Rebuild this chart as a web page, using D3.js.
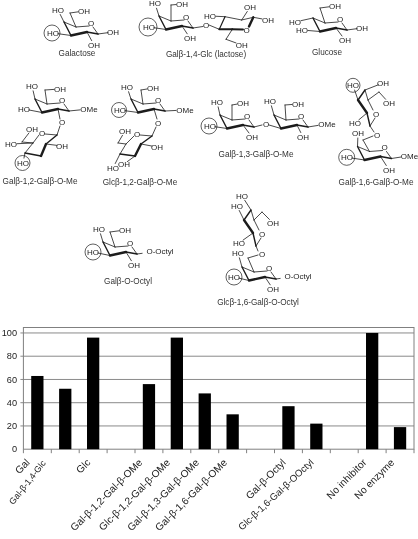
<!DOCTYPE html>
<html>
<head>
<meta charset="utf-8">
<script src="https://cdn.jsdelivr.net/npm/d3@7/dist/d3.min.js"></script>
<style>
html,body{margin:0;padding:0;background:#fff}
svg{display:block}
text{font-family:"Liberation Sans",Arial,sans-serif}
.soft{filter:blur(0.3px)}
</style>
</head>
<body>
<svg id="c" width="418" height="539"></svg>
<script>
// ---- chart data ----
const categories = ["Gal","Gal-\u03b2-1,4-Glc","Glc","","Gal-\u03b2-1,2-Gal-\u03b2-OMe","Glc-\u03b2-1,2-Gal-\u03b2-OMe","Gal-\u03b2-1,3-Gal-\u03b2-OMe","Gal-\u03b2-1,6-Gal-\u03b2-OMe","","Gal-\u03b2-Octyl","Glc-\u03b2-1,6-Gal-\u03b2-OOctyl","","No inhibitor","No enzyme"];
const activity = [63,52,96,null,56,96,48,30,null,37,22,null,100,19];
const yTicks = [0,20,40,60,80,100];
const labelNudge = [-7,-19,-2,0,-6,-6,-5,-5,0,-2,-2,0,-5,-5];
const labelSize = [10.2,8.9,10.2,0,10.2,10.2,10.2,10.2,0,10.2,9.6,0,10.2,10.2];
const labelAngle = [-45,-52,-45,0,-45,-45,-45,-45,0,-45,-43,0,-45,-45];

const svg = d3.select("#c");

// ---- bar chart ----
const x = d3.scaleBand().domain(d3.range(categories.length)).range([23.4,414]).paddingInner(0.56).paddingOuter(0.28);
const y = d3.scaleLinear().domain([0,104.7]).range([449.2,327.5]);
const step = x.step(), left = x.range()[0];
const chart = svg.append("g");

chart.selectAll("line.grid").data(yTicks.slice(1)).join("line").attr("class","grid")
  .attr("x1",left-3).attr("x2",x.range()[1]).attr("y1",d=>y(d)).attr("y2",d=>y(d))
  .attr("stroke","#8a8a8a").attr("stroke-width",1);
chart.append("rect").attr("x",left).attr("y",y.range()[1]).attr("width",x.range()[1]-left).attr("height",y.range()[0]-y.range()[1])
  .attr("fill","none").attr("stroke","#808080");

chart.selectAll("rect.bar").data(activity.map((v,i)=>({v,i})).filter(d=>d.v!==null)).join("rect").attr("class","bar")
  .attr("x",d=>x(d.i)).attr("width",x.bandwidth()).attr("y",d=>y(d.v)).attr("height",d=>y(0)-y(d.v)).attr("fill","#000");

chart.selectAll("line.tick").data(d3.range(categories.length+1)).join("line").attr("class","tick")
  .attr("x1",i=>left+i*step).attr("x2",i=>left+i*step).attr("y1",y(0)).attr("y2",y(0)+4)
  .attr("stroke","#808080");

const chartText = svg.append("g").attr("class","soft");
chartText.selectAll("text.ytick").data(yTicks).join("text").attr("class","ytick")
  .attr("x",17).attr("y",d=>y(d)+3.2).attr("text-anchor","end").attr("font-size",9.2).attr("fill","#222").text(d=>d);

chartText.selectAll("text.xlab").data(categories.map((c,i)=>({c,i})).filter(d=>d.c)).join("text").attr("class","xlab")
  .attr("text-anchor","end").attr("font-size",d=>labelSize[d.i]).attr("fill","#222")
  .attr("transform",d=>`translate(${x(d.i)+x.bandwidth()/2+labelNudge[d.i]},${y(0)+14}) rotate(${labelAngle[d.i]})`)
  .text(d=>d.c);

// ---- structure helpers ----
const mol = svg.append("g").attr("class","soft");
const INK = "#1c1c1c";
function bond(a,b,w=0.8){ mol.append("line").attr("x1",a[0]).attr("y1",a[1]).attr("x2",b[0]).attr("y2",b[1]).attr("stroke",INK).attr("stroke-width",w).attr("stroke-linecap","round"); }
function label(t,p){ mol.append("text").attr("x",p[0]).attr("y",p[1]+2.8).attr("text-anchor","middle").attr("font-size",8).attr("fill",INK).text(t); }
function caption(t,cx,cy){ mol.append("text").attr("x",cx).attr("y",cy+2.8).attr("text-anchor","middle").attr("font-size",8.2).attr("fill","#333").text(t); }
function circ(p,r=8){ mol.append("circle").attr("cx",p[0]).attr("cy",p[1]).attr("r",r).attr("fill","none").attr("stroke",INK).attr("stroke-width",0.7); }
// bond from atom to label, stopping short of the label
function sub(a,p,t,cut=5){
  const dx=p[0]-a[0],dy=p[1]-a[1],L=Math.hypot(dx,dy)||1;
  bond(a,[p[0]-dx/L*cut,p[1]-dy/L*cut]);
  label(t,p);
}
function chair(ox,oy){
  const A={O:[ox,oy],C1:[ox+7,oy+11],C2:[ox-4,oy+9],C3:[ox-20,oy+12.5],C4:[ox-27,oy-1],C5:[ox-15,oy+4]};
  bond([ox-2,oy+3],A.C5); bond(A.C5,A.C4); bond(A.C4,A.C3,1.4); bond(A.C3,A.C2,2.4); bond(A.C2,A.C1,1.4); bond([ox+2,oy+4],A.C1);
  label("O",A.O);
  return A;
}
function vring(ox,oy){
  const A={O:[ox,oy],c:[ox-6,oy+12],b:[ox-9,oy-1],a:[ox-18,oy-14],t:[ox-11,oy-24],d:[ox-8,oy-14]};
  bond([ox-1,oy+4],A.c); bond(A.c,A.b,1.4); bond(A.b,A.a,2.4); bond(A.a,A.t,1.4); bond(A.t,A.d); bond(A.d,[ox-3,oy-4]);
  label("O",A.O);
  return A;
}
function sixOH(A,vertex,p,t="OH"){ bond(A.C5||A.d,vertex); sub(vertex,p,t,6); }

// Galactose
{ const A=chair(91,23);
  sub(A.C4,[58,10],"HO"); sixOH(A,[70,13],[84,11]);
  sub(A.C3,[53,33],"HO"); circ([52,33],8);
  sub(A.C2,[94,45],"OH"); sub(A.C1,[113,32],"OH");
  caption("Galactose",77,53); }

// Lactose
{ const A=chair(186,17);
  sub(A.C4,[155,3.5],"HO"); sixOH(A,[171,5],[182,4]);
  sub(A.C3,[149,27],"HO"); circ([148,27],9);
  sub(A.C2,[190,38],"OH");
  bond(A.C1,[203,26.5]); label("O",[206,25]);
  const P=[225,16.7],Q=[219.3,29.3],R=[232.3,29.3],U=[241.7,20],T=[253.3,17.3];
  bond([209,25],Q); bond(Q,P,1.2); bond(P,U); bond(U,T); bond(T,[249,26.5],2.4); bond(Q,R,2); bond(R,[243,29.5],2);
  label("O",[246.7,30]);
  sub(P,[210,16],"HO",6); sub(U,[250,7.3],"OH"); sub(T,[268,20],"OH",6);
  bond(R,[226,39.3]); sub([226,39.3],[241.7,45],"OH",6);
  caption("Gal\u03b2-1,4-Glc (lactose)",206,54); }

// Glucose
{ const A=chair(340,19);
  sub(A.C4,[295,22],"HO",6); sixOH(A,[320,8],[335,6]);
  sub(A.C3,[302,30],"HO",6);
  sub(A.C2,[345,40],"OH"); sub(A.C1,[362,28],"OH");
  caption("Glucose",327,52); }

// Gal b-1,2-Gal b-O-Me
{ const A=chair(62,100);
  sub(A.C4,[32,86],"HO"); sixOH(A,[45,90],[60,89]);
  sub(A.C3,[24,109],"HO"); sub(A.C1,[89,109],"OMe",9);
  bond(A.C2,[60,119]); label("O",[62,122]);
  const B={O:[42,133],C1:[57,135],C2:[46,144],C3:[41,156],C4:[25,153],C5:[33,143]};
  bond([60,126],B.C1); bond([45,134],B.C1); bond([39,135],B.C5); bond(B.C5,B.C4); bond(B.C4,B.C3,1.4); bond(B.C3,B.C2,2.4); bond(B.C2,B.C1,1.4);
  label("O",B.O);
  bond(B.C5,[22,142]); sub([22,142],[32,129],"OH");
  sub(B.C5,[11,144],"HO",6); sub(B.C2,[62,146],"OH");
  sub(B.C4,[23,163],"HO"); circ([22.5,163],7.5);
  caption("Gal\u03b2-1,2-Gal\u03b2-O-Me",40,181); }

// Glc b-1,2-Gal b-O-Me
{ const A=chair(158,100);
  sub(A.C4,[127,87],"HO"); sixOH(A,[141,90],[153,88]);
  sub(A.C3,[120,110],"HO"); circ([119,110],7.5); sub(A.C1,[185,110],"OMe",9);
  bond(A.C2,[157,119]); label("O",[158,123]);
  const B={O:[137,134],C1:[152,136],C2:[141,144],C3:[135,156],C4:[120,154],C5:[126,144]};
  bond([156,127],B.C1); bond([140,135],B.C1); bond([134,136],B.C5); bond(B.C5,B.C4); bond(B.C4,B.C3,1.4); bond(B.C3,B.C2,2.4); bond(B.C2,B.C1,1.4);
  label("O",B.O);
  bond(B.C5,[118,143]); sub([118,143],[125,131],"OH");
  sub(B.C2,[157,147],"OH"); sub(B.C3,[124,164],"OH",4); sub(B.C4,[113,168],"HO");
  caption("Glc\u03b2-1,2-Gal\u03b2-O-Me",140,182); }

// Gal b-1,3-Gal b-O-Me
{ const A=chair(247,116);
  sub(A.C4,[217,102],"HO"); sixOH(A,[232,105],[243,103]);
  sub(A.C3,[210,126],"HO"); circ([209,126],8); sub(A.C2,[252,137],"OH");
  bond(A.C1,[262,125]); label("O",[266,124]);
  const B=chair(301,116);
  sub(B.C4,[270,101],"HO"); sixOH(B,[285,105],[298,104]);
  bond([269,125],B.C3); sub(B.C2,[303,137],"OH"); sub(B.C1,[327,124],"OMe",9);
  caption("Gal\u03b2-1,3-Gal\u03b2-O-Me",256,154); }

// Gal b-1,6-Gal b-O-Me
{ const A=vring(376,114);
  sub(A.a,[353,85.3],"HO"); circ([353,85.3],7); sub(A.t,[383,83],"OH");
  bond(A.d,[379,92]); sub([379,92],[389,103],"OH");
  sub(A.b,[355,123],"HO");
  bond(A.c,[374,132]); label("O",[377,135]);
  const B=chair(384.5,147.5);
  sub(B.C4,[358,133],"OH"); bond(B.C5,[363,140]); bond([363,140],[373,136]);
  sub(B.C3,[347,157.3],"HO"); circ([346.7,157.3],8);
  sub(B.C2,[389,169.7],"OH"); sub(B.C1,[409.5,155.7],"OMe",9);
  caption("Gal\u03b2-1,6-Gal\u03b2-O-Me",376,182); }

// Gal b-O-Octyl
{ const A=chair(130,243);
  sub(A.C4,[99,229],"HO"); sixOH(A,[110,232],[125,230]);
  sub(A.C3,[93,252],"HO"); circ([93,252],8);
  sub(A.C2,[134,265],"OH"); sub(A.C1,[160,251],"O-Octyl",18);
  caption("Gal\u03b2-O-Octyl",128,281.5); }

// Glc b-1,6-Gal b-O-Octyl
{ const A=vring(262,234);
  sub(A.t,[242,196],"HO"); sub(A.a,[237,206],"HO");
  bond(A.d,[262,212]); sub([262,212],[273,223],"OH");
  sub(A.b,[239,243],"HO");
  bond(A.c,[258,251]); label("O",[262,254]);
  const B=chair(269,268);
  sub(B.C4,[238,253],"HO"); bond(B.C5,[248,258]); bond([248,258],[258,255]);
  sub(B.C3,[234,277],"HO"); circ([234,277],8);
  sub(B.C2,[273,289],"OH"); sub(B.C1,[298,276],"O-Octyl",18);
  caption("Glc\u03b2-1,6-Gal\u03b2-O-Octyl",258,302); }
</script>
</body>
</html>
